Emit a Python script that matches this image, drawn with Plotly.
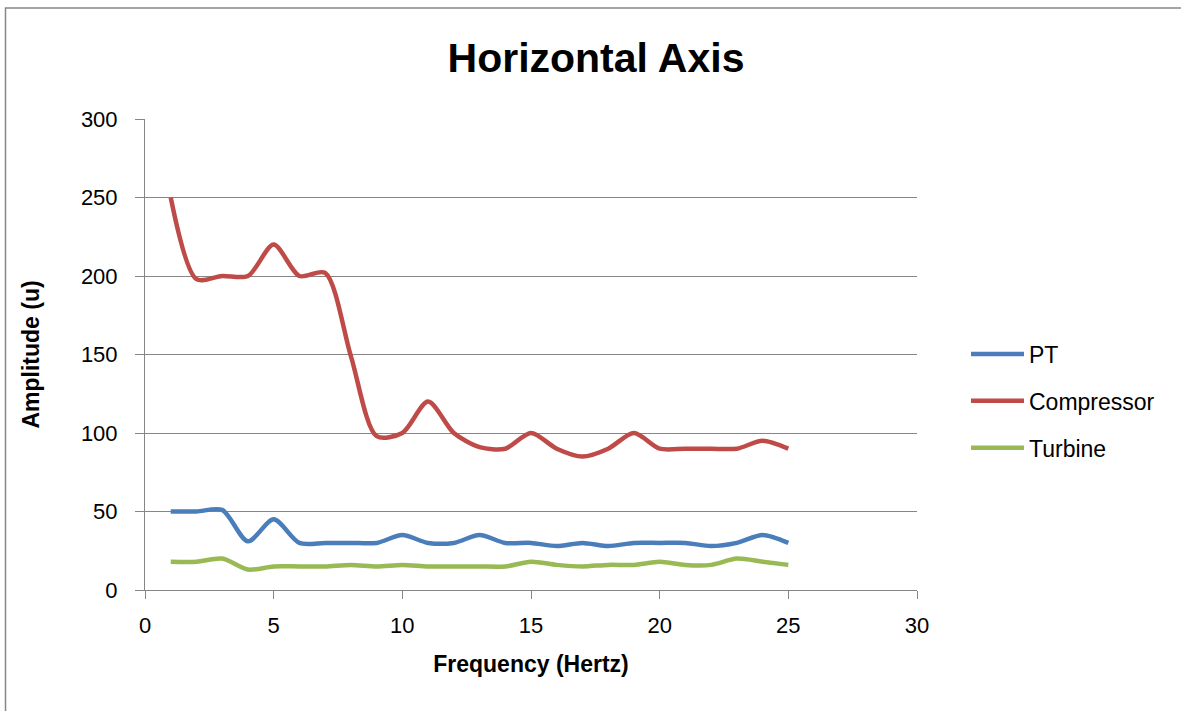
import plotly.graph_objects as go

freq = list(range(1, 26))
pt = [50, 50, 51, 31, 45, 30, 30, 30, 30, 35, 30, 30, 35, 30, 30, 28, 30, 28, 30, 30, 30, 28, 30, 35, 30]
compressor = [250, 198, 200, 200, 220, 200, 202, 149, 98, 100, 120, 100, 91, 90, 100, 90, 85, 90, 100, 90, 90, 90, 90, 95, 90]
turbine = [18, 18, 20, 13, 15, 15, 15, 16, 15, 16, 15, 15, 15, 15, 18, 16, 15, 16, 16, 18, 16, 16, 20, 18, 16]

series = [("PT", pt, "#4a7ebb"), ("Compressor", compressor, "#be4b48"), ("Turbine", turbine, "#98b954")]

W, H = 1181, 711
L, R, T, B = 145, 917, 119, 590

fig = go.Figure()
for name, vals, col in series:
    fig.add_trace(go.Scatter(x=freq, y=vals, name=name, mode="lines", legendgroup=name,
                             line=dict(color=col, width=4.5, shape="spline", smoothing=0.8)))

def px_x(p):
    return (p - L) / (R - L)

def px_y(p):
    return (B - p) / (B - T)

fig.update_layout(
    width=W, height=H,
    margin=dict(l=L, r=W - R, t=T, b=H - B),
    paper_bgcolor="white", plot_bgcolor="white",
    font=dict(family="Liberation Sans, Arial, sans-serif", size=22, color="black"),
    title=dict(text="<b>Horizontal Axis</b>", x=596 / W, xanchor="center",
               y=1 - 58 / H, yanchor="middle", yref="container",
               font=dict(size=41, color="black")),
    xaxis=dict(range=[0, 30], tickvals=[0, 5, 10, 15, 20, 25, 30], showgrid=False,
               showline=True, linecolor="#868686", linewidth=1, ticks="outside",
               ticklen=8, tickcolor="#868686", zeroline=False, ticklabelstandoff=8,
               title=dict(text="<b>Frequency (Hertz)</b>", font=dict(size=23), standoff=18),
               tickfont=dict(size=22)),
    yaxis=dict(range=[0, 300], tickvals=[0, 50, 100, 150, 200, 250, 300], showgrid=True,
               gridcolor="#868686", gridwidth=1, showline=True, linecolor="#868686",
               linewidth=1, ticks="outside", ticklen=9, tickcolor="#868686", zeroline=False,
               ticklabelstandoff=13,
               title=dict(text="<b>Amplitude (u)</b>", font=dict(size=23), standoff=34),
               tickfont=dict(size=22)),
    legend=dict(x=px_x(966), y=px_y(401), xanchor="left", yanchor="middle",
                font=dict(size=23), tracegroupgap=14, itemwidth=53,
                bgcolor="rgba(0,0,0,0)"),
    shapes=[dict(type="rect", xref="paper", yref="paper",
                 x0=px_x(5.5), x1=px_x(1200), y0=px_y(730), y1=px_y(8),
                 line=dict(color="#868686", width=1.5), fillcolor="rgba(0,0,0,0)", layer="below")],
)

fig.write_html("out.html")
